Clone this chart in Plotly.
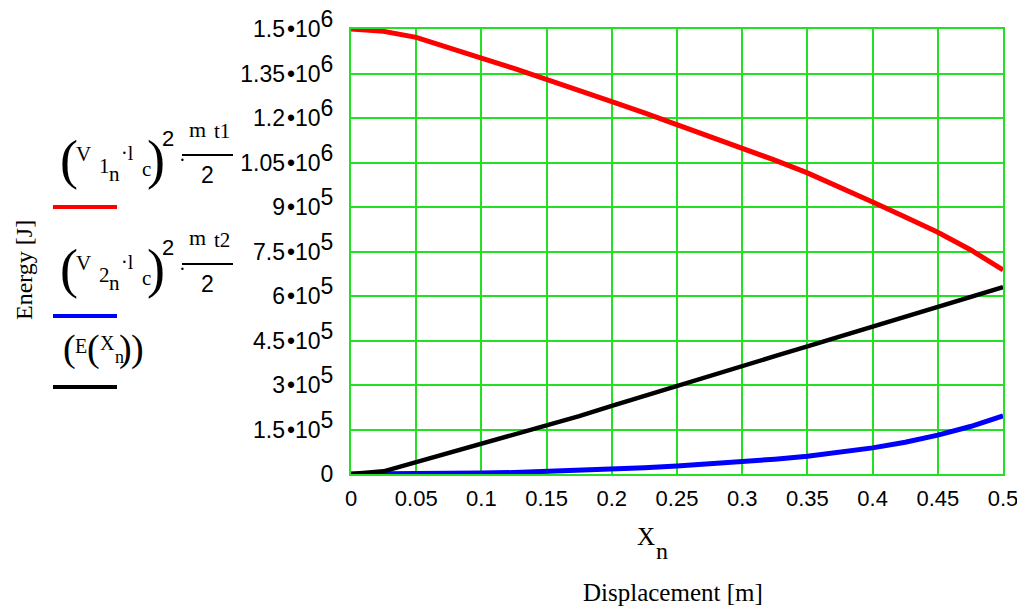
import plotly.graph_objects as go

x_vals = [0, 0.025, 0.05, 0.075, 0.1, 0.125, 0.15, 0.175, 0.2, 0.225, 0.25,
          0.275, 0.3, 0.325, 0.35, 0.375, 0.4, 0.425, 0.45, 0.475, 0.5]
red_vals = [1.500e6, 1.492e6, 1.472e6, 1.439e6, 1.402e6, 1.367e6, 1.331e6, 1.293e6,
            1.255e6, 1.217e6, 1.178e6, 1.139e6, 1.099e6, 1.058e6, 1.015e6, 0.967e6,
            0.917e6, 0.866e6, 0.815e6, 0.756e6, 0.688e6]
blue_vals = [0, 0, 500, 1500, 3000, 5000, 8000, 12000, 17000, 21000, 27000,
             34000, 42000, 50000, 60000, 73000, 88000, 107000, 131000, 160000, 196000]
black_vals = [0, 9000, 40000, 71000, 100000, 130000, 162000, 195000, 230000, 264000,
              298000, 331000, 365000, 397000, 430000, 464000, 498000, 531000, 563000,
              596000, 630000]

x_ticks = [0, 0.05, 0.1, 0.15, 0.2, 0.25, 0.3, 0.35, 0.4, 0.45, 0.5]
x_ticktext = ["0", "0.05", "0.1", "0.15", "0.2", "0.25", "0.3", "0.35", "0.4", "0.45", "0.5"]
y_ticks = [0, 1.5e5, 3e5, 4.5e5, 6e5, 7.5e5, 9e5, 1.05e6, 1.2e6, 1.35e6, 1.5e6]
y_mant = ["", "1.5", "3", "4.5", "6", "7.5", "9", "1.05", "1.2", "1.35", "1.5"]
y_exp = ["", "5", "5", "5", "5", "5", "5", "6", "6", "6", "6"]
y_ticktext = ["0"] + [
    m + "\u200a•10<sup><span style='font-size:23px'>" + e + "</span></sup>"
    for m, e in zip(y_mant[1:], y_exp[1:])
]

SANS = "Liberation Sans, Arial, sans-serif"
SERIF = "Liberation Serif, Times New Roman, serif"
GREEN = "#22e022"

fig = go.Figure()
fig.add_trace(go.Scatter(x=x_vals, y=red_vals, mode="lines",
                         line=dict(color="#ff0000", width=5), showlegend=False))
fig.add_trace(go.Scatter(x=x_vals, y=blue_vals, mode="lines",
                         line=dict(color="#0000ff", width=5), showlegend=False))
fig.add_trace(go.Scatter(x=x_vals, y=black_vals, mode="lines",
                         line=dict(color="#000000", width=4.5), showlegend=False))

# page body has an 8px margin: figure sits at (8, 8)
OFF = 8
W, H = 1025 - OFF, 610 - OFF
L, R, T = 351 - OFF, 22, 29 - OFF
PW = W - L - R
PH = 445
B = H - T - PH


def px(xp):
    return (xp - OFF - L) / PW


def py(yp):
    return (H - B - (yp - OFF)) / PH


annots = []


def txt(xp, yp, text, size, font=SERIF, xanchor="center", angle=0):
    annots.append(dict(x=px(xp), y=py(yp), xref="paper", yref="paper", text=text,
                       showarrow=False, xanchor=xanchor, yanchor="middle",
                       textangle=angle,
                       font=dict(family=font, size=size, color="black")))


shapes = []


def seg(x0, x1, yp, color, width):
    shapes.append(dict(type="line", xref="paper", yref="paper",
                       x0=px(x0), x1=px(x1), y0=py(yp), y1=py(yp),
                       line=dict(color=color, width=width)))


# legend blocks
for dy, idx, color in [(0, "1", "#ff0000"), (109, "2", "#0000ff")]:
    txt(69, 160 + dy, "(", 54)
    txt(83, 154 + dy, "V", 21)
    txt(104, 166 + dy, idx, 21)
    txt(114, 174 + dy, "n", 21)
    txt(128, 153 + dy, "·l", 20)
    txt(146, 169 + dy, "c", 21)
    txt(156, 160 + dy, ")", 54)
    txt(168, 138 + dy, "2", 22, SANS)
    txt(182, 160 + dy, "·", 20)
    txt(197, 129 + dy, "m", 22)
    txt(222, 131 + dy, "t" + idx, 21)
    seg(182, 233, 155 + dy, "black", 1.8)
    txt(207, 175 + dy, "2", 23, SANS)
    seg(53, 117, 207 + dy, color, 4)

txt(69, 348, "(", 38)
txt(81, 346, "E", 20)
txt(93, 348, "(", 38)
txt(107, 343, "X", 20)
txt(119, 357, "n", 18)
txt(125, 348, ")", 38)
txt(137, 348, ")", 38)
seg(53, 117, 387, "black", 4)

# axis titles
txt(24, 270, "Energy [J]", 24, angle=-90)
txt(646, 536, "X", 25)
txt(662, 551, "n", 24)
txt(673, 592, "Displacement [m]", 25)

fig.update_layout(
    width=W, height=H,
    margin=dict(l=L, r=R, t=T, b=B, pad=0, autoexpand=False),
    paper_bgcolor="white", plot_bgcolor="white",
    annotations=annots, shapes=shapes,
    xaxis=dict(range=[0, 0.5], tickvals=x_ticks, ticktext=x_ticktext,
               automargin=False, ticklabeloverflow="allow",
               showgrid=True, gridcolor=GREEN, gridwidth=2,
               showline=True, linecolor=GREEN, linewidth=2, mirror=True,
               zeroline=False, ticks="", ticklabelstandoff=4,
               tickfont=dict(family=SANS, size=22, color="black")),
    yaxis=dict(range=[0, 1.5e6], tickvals=y_ticks, ticktext=y_ticktext,
               automargin=False, ticklabeloverflow="allow",
               showgrid=True, gridcolor=GREEN, gridwidth=2,
               showline=True, linecolor=GREEN, linewidth=2, mirror=True,
               zeroline=False, ticks="", ticklabelstandoff=11,
               tickfont=dict(family=SANS, size=23, color="black")),
)

fig.write_html("out.html")
